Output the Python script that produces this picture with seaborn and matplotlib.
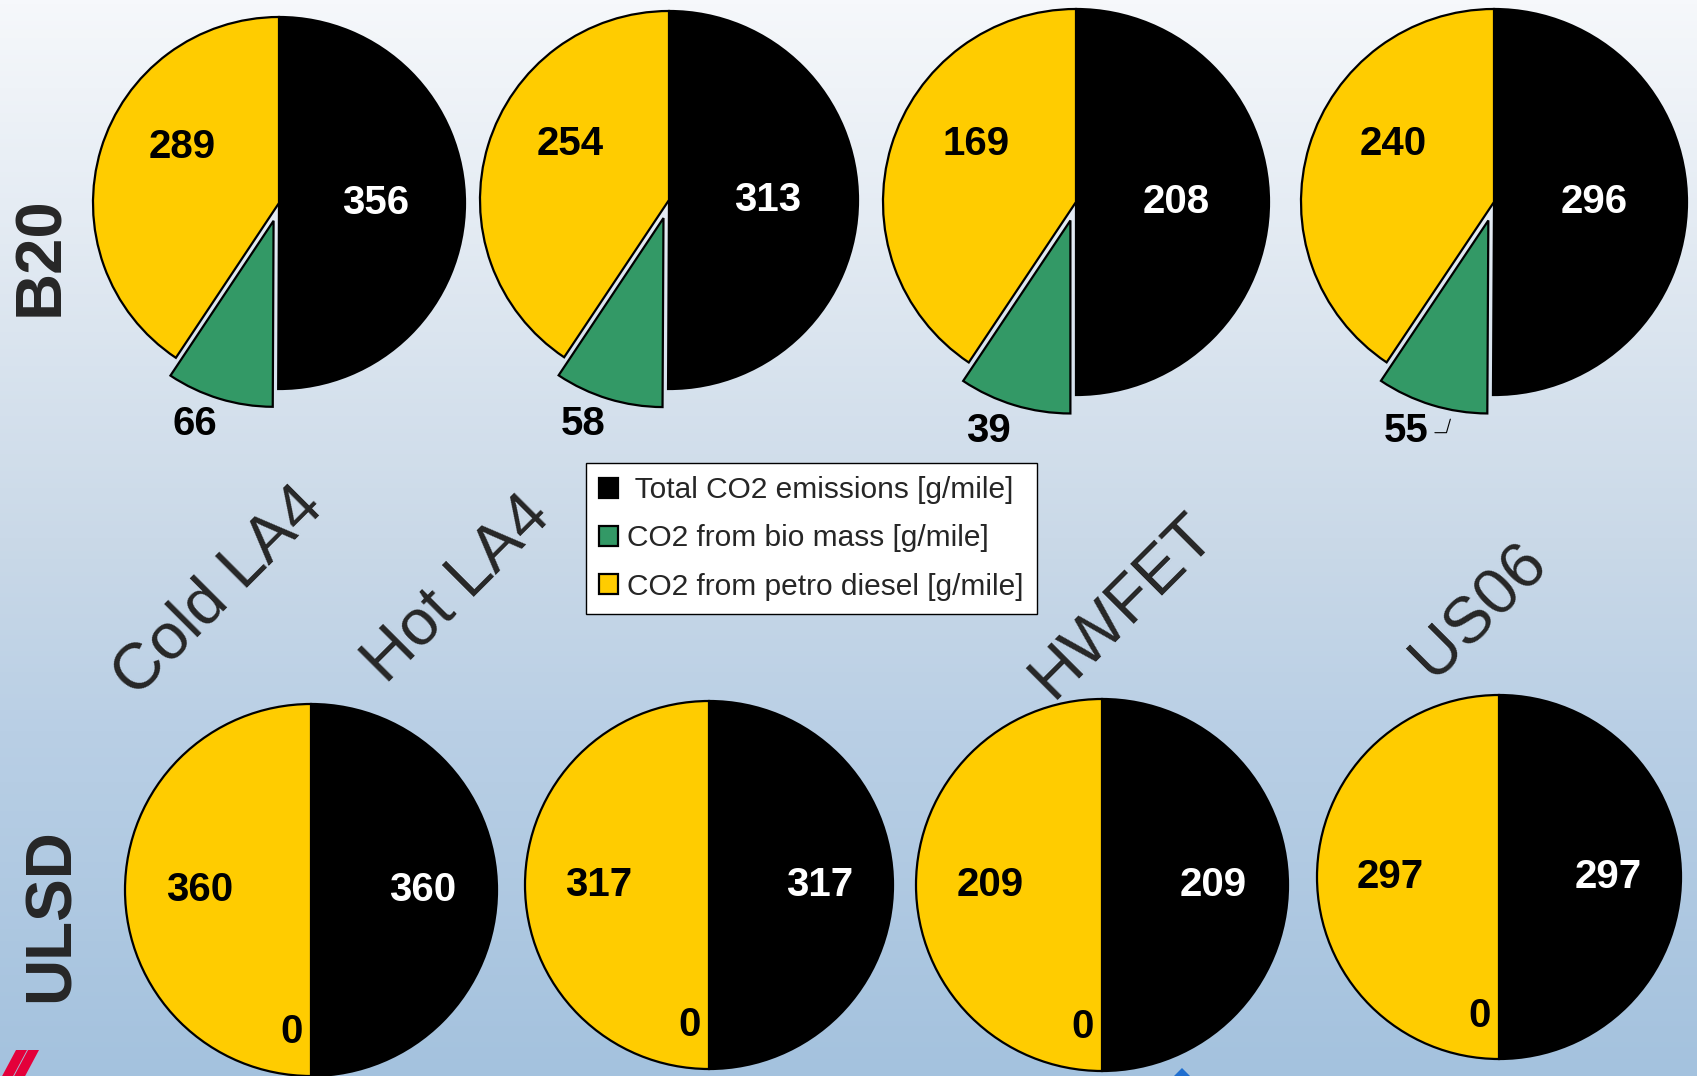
import numpy as np
import matplotlib
matplotlib.use("Agg")
import matplotlib.pyplot as plt
from matplotlib.colors import LinearSegmentedColormap
from matplotlib.patches import Polygon
import seaborn as sns

# ---- data -----------------------------------------------------------------
cycles = ["Cold LA4", "Hot LA4", "HWFET", "US06"]
fuels = ["B20", "ULSD"]
series = [" Total CO2 emissions [g/mile]",
          "CO2 from bio mass [g/mile]",
          "CO2 from petro diesel [g/mile]"]

b20_total = [356, 313, 208, 296]
b20_bio = [66, 58, 39, 55]
b20_petro = [289, 254, 169, 240]

ulsd_total = [360, 317, 209, 297]
ulsd_bio = [0, 0, 0, 0]
ulsd_petro = [360, 317, 209, 297]

# ---- style ----------------------------------------------------------------
sns.set_style("white")
plt.rcParams["font.family"] = ["Liberation Sans", "DejaVu Sans"]

colors = sns.color_palette(["#000000", "#339966", "#FFCC00"])
W, H = 1697, 1076
fig = plt.figure(figsize=(W / 100, H / 100), dpi=100)

# slide-like vertical gradient behind everything
bg = fig.add_axes([0, 0, 1, 1], zorder=-10)
grad_cmap = LinearSegmentedColormap.from_list(
    "bg", [(0.0, "#f6f8fb"), (0.5, "#cad9e8"), (0.68, "#b9cfe5"), (1.0, "#a4c2de")])
bg.imshow(np.linspace(0, 1, 256)[:, None], aspect="auto", cmap=grad_cmap,
          extent=[0, 1, 0, 1])
bg.set_axis_off()

# pie placement in pixels: (centre x, centre y from top, radius)
layout = {
    "B20": [(279, 203, 186), (669, 200, 189), (1076, 202, 193), (1494, 202, 193)],
    "ULSD": [(311, 890, 186), (709, 885, 184), (1102, 885, 186), (1499, 877, 182)],
}
data = {
    "B20": (b20_total, b20_bio, b20_petro),
    "ULSD": (ulsd_total, ulsd_bio, ulsd_petro),
}

SPAN = 1.5
label_kw = dict(ha="center", va="center", fontsize=29, fontweight="bold",
                clip_on=False)
legend_handles = None

for fuel in fuels:
    totals, bios, petros = data[fuel]
    for i, cycle in enumerate(cycles):
        cx, cy, r = layout[fuel][i]
        ax = fig.add_axes([(cx - SPAN * r) / W, (H - cy - SPAN * r) / H,
                           2 * SPAN * r / W, 2 * SPAN * r / H])
        vals = [totals[i], bios[i], petros[i]]
        explode = [0, 0.1, 0] if bios[i] > 0 else [0, 0, 0]
        wedges, _ = ax.pie(vals, colors=colors, startangle=90,
                           counterclock=False, explode=explode,
                           wedgeprops=dict(edgecolor="black", linewidth=1.6))
        ax.set_xlim(-SPAN, SPAN)
        ax.set_ylim(-SPAN, SPAN)
        ax.set_aspect("equal")
        ax.set_axis_off()
        if legend_handles is None:
            legend_handles = wedges

        for k, (w, v) in enumerate(zip(wedges, vals)):
            mid = 0.5 * (w.theta1 + w.theta2)
            if k == 0:          # total
                ang, dist, col = mid, (0.52 if fuel == "B20" else 0.6), "white"
            elif k == 1:        # bio mass
                if v > 0:
                    ang, dist, col = mid - 4, 1.27, "black"
                else:
                    ang, dist, col = mid - 8, 0.77, "black"
            else:               # petro diesel
                shift = -13 if bios[i] > 0 else 0
                ang, dist, col = mid + shift, 0.6, "black"
            x = dist * np.cos(np.radians(ang))
            y = dist * np.sin(np.radians(ang))
            ax.text(x, y, f"{v}", color=col, **label_kw)
            # leader line for the US06 bio-mass label
            if fuel == "B20" and k == 1 and cycle == "US06":
                ax.plot([x + 0.15, x + 0.21, x + 0.23],
                        [y - 0.01, y - 0.01, y + 0.06],
                        color="black", lw=0.8, clip_on=False)

# row titles
fig.text(41 / W, 1 - 256 / H, "B20", rotation=90, ha="center", va="center",
         fontsize=47, fontweight="bold")
fig.text(52 / W, 1 - 915 / H, "ULSD", rotation=90, ha="center", va="center",
         fontsize=46, fontweight="bold")

# column titles
for name, (px, py) in zip(cycles, [(218, 592), (457, 589), (1123, 606), (1479, 611)]):
    fig.text(px / W, 1 - py / H, name, rotation=45, ha="center", va="center",
             rotation_mode="anchor", fontsize=47)

leg = fig.legend(legend_handles, series, loc="center",
                 bbox_to_anchor=(811.5 / W, 1 - 538.5 / H), fontsize=21.5,
                 frameon=True, fancybox=False, edgecolor="black",
                 framealpha=1, handlelength=0.65, handleheight=0.65,
                 handletextpad=0.3, labelspacing=0.68, borderpad=0.45)
leg.get_frame().set_linewidth(1.0)

# small slide decorations along the bottom edge
for x0 in (16, 28):
    pts = [(x0, 1050), (x0 + 11, 1050), (x0 - 5, 1080), (x0 - 16, 1080)]
    fig.patches.append(Polygon([(px / W, 1 - py / H) for px, py in pts],
                               closed=True, transform=fig.transFigure,
                               facecolor="#e4003a", edgecolor="none"))
dia = [(1182, 1068), (1192, 1078), (1182, 1088), (1172, 1078)]
fig.patches.append(Polygon([(px / W, 1 - py / H) for px, py in dia],
                           closed=True, transform=fig.transFigure,
                           facecolor="#1f6fd0", edgecolor="none"))

fig.savefig("out.png", dpi=100)
